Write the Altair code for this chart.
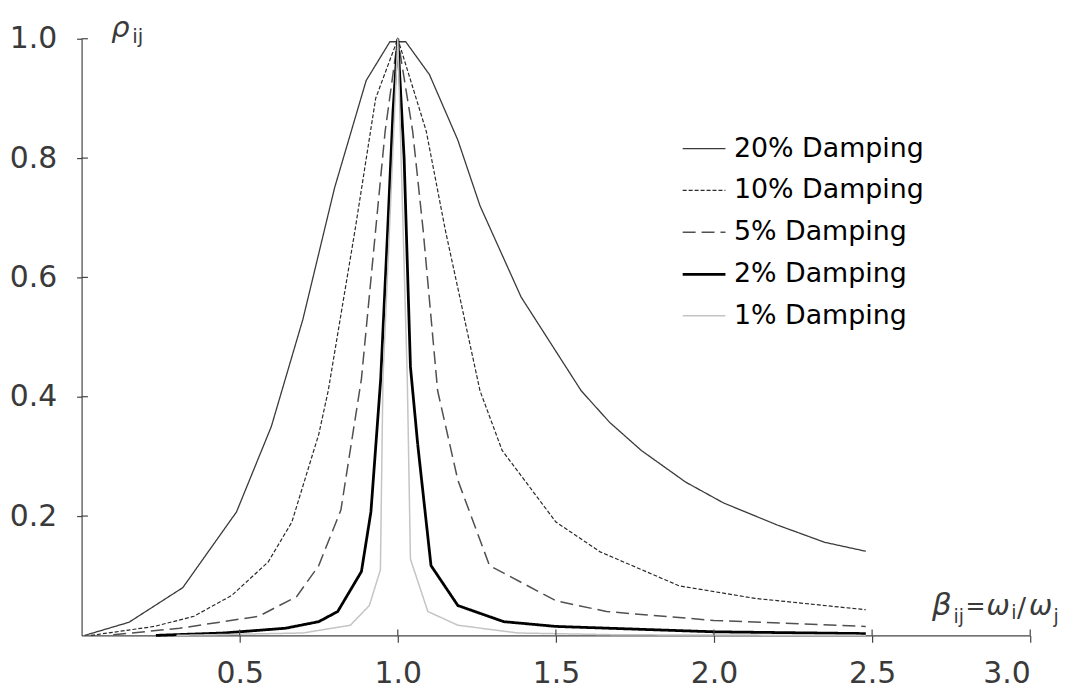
import altair as alt
import pandas as pd

# ---------------- data ----------------
series_names = ["20% Damping", "10% Damping", "5% Damping", "2% Damping", "1% Damping"]

x20 = [0.01, 0.15, 0.32, 0.49, 0.60, 0.70, 0.80, 0.90, 0.975, 1.025, 1.10, 1.19, 1.26, 1.39,
       1.58, 1.67, 1.77, 1.91, 2.03, 2.20, 2.35, 2.48]
y20 = [0.0, 0.022, 0.08, 0.207, 0.35, 0.53, 0.75, 0.93, 0.995, 0.995, 0.94, 0.83, 0.72, 0.567,
       0.41, 0.357, 0.31, 0.257, 0.222, 0.185, 0.156, 0.141]

x10 = [0.03, 0.23, 0.355, 0.475, 0.59, 0.665, 0.75, 0.78, 0.865, 0.93, 1.0, 1.09, 1.15, 1.26,
       1.33, 1.50, 1.64, 1.89, 2.13, 2.48]
y10 = [0.0, 0.015, 0.032, 0.067, 0.123, 0.19, 0.337, 0.41, 0.68, 0.90, 1.0, 0.845, 0.68, 0.41,
       0.31, 0.19, 0.14, 0.083, 0.062, 0.043]

x05 = [0.10, 0.31, 0.56, 0.68, 0.75, 0.82, 0.885, 0.93, 0.96, 1.0, 1.047, 1.08, 1.126, 1.19,
       1.29, 1.50, 1.66, 2.0, 2.48]
y05 = [0.001, 0.012, 0.032, 0.065, 0.117, 0.21, 0.43, 0.68, 0.845, 1.0, 0.845, 0.68, 0.41, 0.26,
       0.117, 0.058, 0.04, 0.025, 0.015]

x02 = [0.235, 0.45, 0.645, 0.75, 0.81, 0.885, 0.915, 0.946, 0.968, 0.985, 1.0, 1.02, 1.04,
       1.063, 1.105, 1.19, 1.335, 1.50, 2.0, 2.48]
y02 = [0.0, 0.004, 0.012, 0.023, 0.04, 0.107, 0.207, 0.43, 0.68, 0.88, 1.0, 0.80, 0.45,
       0.32, 0.117, 0.05, 0.023, 0.015, 0.006, 0.003]

x01 = [0.30, 0.70, 0.85, 0.91, 0.945, 0.953, 1.0, 1.03, 1.04, 1.095, 1.19, 1.38, 1.70, 2.48]
y01 = [0.0, 0.004, 0.017, 0.05, 0.11, 0.43, 1.0, 0.43, 0.128, 0.04, 0.017, 0.004, 0.001, 0.0]

x_tick_values = [0.5, 1.0, 1.5, 2.0, 2.5, 3.0]
y_tick_values = [0.2, 0.4, 0.6, 0.8, 1.0]

# ---------------- tables ----------------
rows = []
for name, xs, ys in zip(series_names, [x20, x10, x05, x02, x01], [y20, y10, y05, y02, y01]):
    for a, b in zip(xs, ys):
        rows.append({"series": name, "beta": a, "rho": b})
df = pd.DataFrame(rows)
xt = pd.DataFrame({"v": x_tick_values})
yt = pd.DataFrame({"v": y_tick_values})
one = pd.DataFrame({"k": [0]})

# ---------------- styles ----------------
line_colors = ["#3a3a3a", "#2a2a2a", "#505050", "#000000", "#c4c4c4"]
line_dashes = [[1, 0], [4, 2], [13, 6], [1, 0], [1, 0]]
line_widths = [1.3, 1.2, 1.5, 2.8, 1.5]
axis_color = "#444444"
label_color = "#3a3a3a"

xscale = alt.Scale(domain=[0, 3], nice=False, zero=False)
yscale = alt.Scale(domain=[0, 1], nice=False)

leg = alt.Legend(
    title=None, orient="none", legendX=603, legendY=88,
    symbolType="stroke", symbolSize=1849, labelFontSize=27,
    labelFont="DejaVu Sans", labelColor="#000000", rowPadding=6,
    labelOffset=7, padding=0, labelLimit=0,
)

lines = alt.Chart(df).mark_line().encode(
    x=alt.X("beta:Q", scale=xscale, axis=alt.Axis(
        values=x_tick_values, format=".1f", title=None, grid=False,
        tickSize=7, labelPadding=16)),
    y=alt.Y("rho:Q", scale=yscale, axis=alt.Axis(
        values=y_tick_values, format=".1f", title=None, grid=False,
        tickSize=5, labelPadding=20)),
    color=alt.Color("series:N", scale=alt.Scale(domain=series_names, range=line_colors), legend=leg),
    strokeDash=alt.StrokeDash("series:N", scale=alt.Scale(domain=series_names, range=line_dashes), legend=leg),
    strokeWidth=alt.StrokeWidth("series:N", scale=alt.Scale(type="ordinal", domain=series_names, range=line_widths), legend=leg),
)

xticks_in = alt.Chart(xt).mark_rule(color=axis_color, strokeWidth=1.2).encode(
    x=alt.X("v:Q", scale=xscale), y=alt.datum(0), y2=alt.datum(0.01))
yticks_in = alt.Chart(yt).mark_rule(color=axis_color, strokeWidth=1.2).encode(
    y=alt.Y("v:Q", scale=yscale), x=alt.datum(0), x2=alt.datum(0.02))

# axis title pieces (text, x, y in data units, size, italic)
title_pieces = [
    ("ρ", 0.094, 1.003, 29, True),
    ("ij", 0.160, 0.993, 20, False),
    ("β", 2.689, 0.034, 31, True),
    ("ij", 2.757, 0.021, 19, False),
    ("=", 2.795, 0.036, 24, False),
    ("ω", 2.862, 0.034, 28, True),
    ("i", 2.940, 0.027, 19, False),
    ("/", 2.958, 0.030, 27, False),
    ("ω", 2.996, 0.034, 28, True),
    ("j", 3.074, 0.021, 19, False),
]
texts = []
for t, px, py, sz, it in title_pieces:
    texts.append(
        alt.Chart(one).mark_text(
            align="left", baseline="alphabetic", fontSize=sz,
            fontStyle="italic" if it else "normal", font="DejaVu Sans", color=label_color,
        ).encode(x=alt.datum(px), y=alt.datum(py), text=alt.value(t))
    )

chart = alt.layer(lines, xticks_in, yticks_in, *texts).properties(
    width=954, height=600, autosize="none",
    padding={"left": 74, "top": 29, "right": 40, "bottom": 53},
    background="white",
).configure_view(stroke=None).configure_axis(
    domainColor=axis_color, tickColor=axis_color, domainWidth=1.2, tickWidth=1.2,
    labelFont="DejaVu Sans", labelFontSize=30, labelColor=label_color,
)

chart.save("out.html", embed_options={"renderer": "svg", "actions": False})
